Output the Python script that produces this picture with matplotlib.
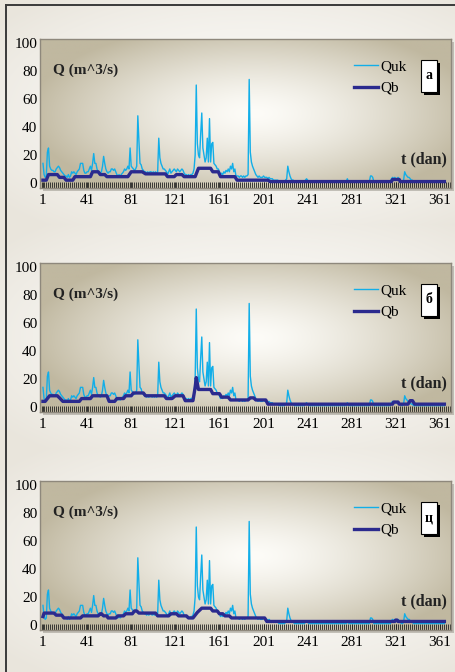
import numpy as np
import matplotlib.pyplot as plt
from matplotlib.patches import Rectangle
import matplotlib.ticker as mticker

plt.rcParams['font.family'] = ['Liberation Serif', 'DejaVu Serif']

quk = [
    14, 6, 4, 5, 22, 25, 12, 10, 9, 9, 8, 8, 10, 11, 12, 11, 9, 8, 7, 6,
    5, 5, 4, 6, 4, 5, 8, 7, 8, 7, 6, 8, 9, 10, 14, 14, 14, 9, 7, 7, 8,
    8, 10, 12, 9, 14, 21, 14, 14, 10, 8, 8, 7, 8, 12, 19, 14, 10, 8, 7, 8,
    8, 10, 10, 9, 10, 8, 6, 5, 6, 5, 6, 7, 8, 10, 9, 10, 12, 10, 25, 12,
    11, 10, 9, 10, 12, 48, 30, 14, 13, 10, 9, 8, 8, 7, 8, 7, 8, 8, 7, 8,
    7, 8, 7, 8, 32, 18, 14, 12, 10, 10, 9, 8, 6, 8, 10, 7, 8, 9, 10, 9, 8,
    10, 9, 8, 9, 10, 9, 7, 6, 6, 5, 6, 5, 6, 6, 7, 10, 20, 70, 28, 20,
    18, 35, 50, 25, 20, 15, 18, 32, 15, 46, 15, 28, 29, 14, 13, 12, 10, 10, 8, 6,
    7, 6, 8, 7, 9, 8, 10, 8, 12, 10, 14, 8, 10, 5, 5, 5, 4, 5, 5, 4,
    5, 4, 5, 5, 6, 74, 22, 15, 12, 10, 8, 6, 5, 4, 5, 4, 4, 4, 5, 4, 4,
    4, 3, 4, 3, 3, 3, 2, 2, 2, 2, 2, 1, 1, 1, 1, 1, 1, 2, 3, 12,
    8, 5, 3, 2, 2, 1, 1, 1, 1, 1, 1, 1, 1, 1, 1, 2, 3, 2, 1, 1,
    1, 1, 1, 1, 1, 1, 1, 1, 1, 1, 1, 1, 1, 1, 1, 1, 1, 1, 1, 1,
    1, 1, 1, 1, 1, 1, 1, 1, 1, 1, 1, 1, 1, 3, 1, 1, 1, 1, 1, 1, 1,
    1, 1, 1, 1, 1, 1, 1, 1, 1, 1, 1, 1, 1, 5, 5, 4, 1, 1, 1, 1,
    1, 1, 1, 1, 1, 1, 1, 1, 1, 1, 1, 1, 3, 4, 3, 4, 3, 3, 4, 3,
    2, 1, 1, 2, 8, 6, 5, 4, 4, 3, 2, 2, 1, 1, 1, 1, 1, 1, 1, 1,
    1, 1, 1, 1, 1, 1, 1, 1, 1, 1, 1, 1, 1, 1, 1, 1, 1, 1, 1, 1,
    1,
]
days = list(range(1, len(quk) + 1))

# baseflow Qb for the three methods (vertices of the step line)
qb_a_days = [1, 4, 6, 14, 16, 20, 22, 28, 30, 44, 46, 51, 53, 57, 59, 78, 81, 91, 94, 112,
             114, 120, 122, 127, 129, 139, 142, 153, 155, 160, 162, 175, 177, 205, 207,
             317, 318, 324, 325, 365]
qb_a = [2, 2, 6, 6, 4, 4, 2, 2, 4.5, 4.5, 8, 8, 6, 6, 4.5, 4.5, 8, 8, 6.5, 6.5,
        4.5, 4.5, 6, 6, 4.5, 4.5, 10.5, 10.5, 8, 8, 4.5, 4.5, 2, 2, 1,
        1, 2.5, 2.5, 1, 1]

qb_b_days = [1, 3, 7, 14, 16, 19, 34, 36, 44, 46, 59, 61, 66, 68, 74, 76, 81, 83, 92, 94,
             111, 113, 118, 121, 128, 130, 137, 139, 140, 142, 153, 155, 161, 163, 169, 171,
             187, 189, 192, 194, 203, 205, 318, 319, 323, 324, 332, 334, 336, 338, 365]
qb_b = [4, 4, 8, 8, 6.5, 4, 4, 6, 6, 8, 8, 4, 4, 6, 6, 8, 8, 10, 10, 8,
        8, 6, 6, 8, 8, 4.5, 4.5, 14, 21, 12.5, 12.5, 9.5, 9.5, 7, 7, 5,
        5, 6.5, 6.5, 5, 5, 2, 2, 3.5, 3.5, 2, 2, 4.5, 4.5, 2, 2]

qb_c_days = [1, 2, 4, 11, 13, 18, 20, 35, 37, 51, 53, 54, 56, 59, 60, 67, 69, 74, 76, 82,
             84, 86, 88, 103, 105, 115, 117, 122, 124, 131, 133, 137, 141, 145, 153, 155,
             159, 161, 164, 166, 170, 172, 202, 204, 320, 321, 322, 323, 365]
qb_c = [6, 8.5, 8.5, 8.5, 7, 7, 5, 5, 6.5, 6.5, 8, 8, 6.5, 6.5, 5, 5, 6.5, 6.5, 8, 8,
        10, 10, 8.5, 8.5, 6.5, 6.5, 8, 8, 6.5, 6.5, 5, 5, 9, 12, 12, 10,
        10, 8, 8, 6.5, 6.5, 5, 5, 2.5, 2.5, 3.5, 3.5, 2.5, 2.5]

panel_labels = ['а', 'б', 'ц']
qb_sets = [(qb_a_days, qb_a), (qb_b_days, qb_b), (qb_c_days, qb_c)]
x_ticks = [1, 41, 81, 121, 161, 201, 241, 281, 321, 361]
y_ticks = [0, 20, 40, 60, 80, 100]

W, H = 455, 672
fig = plt.figure(figsize=(W / 100, H / 100), dpi=100)

# page background with a soft light gradient per section
bg = fig.add_axes([0, 0, 1, 1], zorder=-10)
bg.set_xlim(0, W)
bg.set_ylim(H, 0)
bg.axis('off')
yy, xx = np.mgrid[0:H, 0:W]
light = np.array([250, 249, 246]) / 255
dark = np.array([233, 229, 220]) / 255
page = np.zeros((H, W, 3))
for top, bot in [(0, 224), (224, 448), (448, H)]:
    cy = (top + bot) / 2
    r = np.sqrt(((xx - 250) / 320.0) ** 2 + ((yy - cy) / 150.0) ** 2)
    t = np.clip(r, 0, 1)[..., None] ** 1.8
    sect = light * (1 - t) + dark * t
    page[top:bot] = sect[top:bot]
bg.imshow(page, extent=(0, W, H, 0), aspect='auto', zorder=0)
bg.plot([6, 6], [5, H], color='#3a3a3a', lw=1.4, zorder=2)
bg.plot([6, W], [5, 5], color='#3a3a3a', lw=1.4, zorder=2)

# gradient for plot boxes
gy, gx = np.mgrid[0:1:150j, 0:1:400j]
rr = np.sqrt(((gx - 0.52) / 0.55) ** 2 + ((gy - 0.5) / 0.62) ** 2)
tt = np.clip(rr, 0, 1)[..., None] ** 1.4
c_in = np.array([253, 252, 248]) / 255
c_out = np.array([192, 184, 160]) / 255
box_img = c_in * (1 - tt) + c_out * tt

box_tops = [39, 263, 481]
box_h = 149
box_l, box_w = 40, 411
xmin, xmax = -1.7, 371
# minor tick step giving a regular 2 px hatch along the bottom
hatch = 2 * (xmax - xmin) / box_w

for k, top in enumerate(box_tops):
    # shadow
    bg.add_patch(Rectangle((box_l + 3, top + 3), box_w, box_h, facecolor='#9a968c',
                           alpha=0.55, edgecolor='none', zorder=1))
    ax = fig.add_axes([box_l / W, (H - top - box_h) / H, box_w / W, box_h / H])
    ax.imshow(box_img, extent=(0, 1, 0, 1), transform=ax.transAxes,
              aspect='auto', zorder=0)
    ax.plot(days, quk, color='#12aee8', lw=1.0, zorder=3, label='Quk')
    qd, qv = qb_sets[k]
    ax.plot(qd, qv, color='#2b2a8e', lw=2.4, zorder=4, label='Qb')
    ax.set_xlim(xmin, xmax)
    ax.set_ylim(-3.6, 102.9)
    ax.set_xticks(x_ticks)
    ax.set_yticks(y_ticks)
    ax.xaxis.set_minor_locator(mticker.MultipleLocator(hatch))
    ax.tick_params(axis='x', which='both', direction='in', length=4.2, width=0.6,
                   color='#222222', labelsize=11, pad=4)
    ax.tick_params(axis='y', length=0, labelsize=11, pad=2)
    for s in ax.spines.values():
        s.set_color('#8e887c')
        s.set_linewidth(1.0)
    ax.text(0.032, 0.79, 'Q (m^3/s)', transform=ax.transAxes, fontsize=11,
            fontweight='bold', va='center', ha='left', color='#222222')
    ax.text(0.99, 0.195, 't (dan)', transform=ax.transAxes, fontsize=11.5,
            fontweight='bold', va='center', ha='right', color='#222222')
    ax.legend(loc='upper left', bbox_to_anchor=(0.764, 0.86), frameon=False,
              fontsize=11, handlelength=1.6, handletextpad=0.15,
              labelspacing=0.5, borderpad=0, borderaxespad=0)
    # panel letter box with black drop shadow
    ax.add_patch(Rectangle((0.934, 0.625), 0.039, 0.215, transform=ax.transAxes,
                           facecolor='black', edgecolor='none', zorder=5))
    ax.add_patch(Rectangle((0.927, 0.645), 0.039, 0.215, transform=ax.transAxes,
                           facecolor='white', edgecolor='black', lw=0.8, zorder=6))
    ax.text(0.9465, 0.755, panel_labels[k], transform=ax.transAxes, fontsize=10,
            fontweight='bold', ha='center', va='center', zorder=7)

fig.savefig('out.png', dpi=100)
